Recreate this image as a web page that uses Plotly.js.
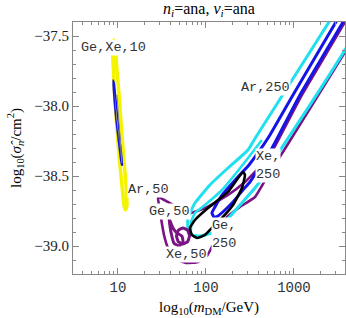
<!DOCTYPE html>
<html><head><meta charset="utf-8">
<script src="https://cdn.plot.ly/plotly-3.0.1.min.js"></script>
<style>html,body{margin:0;padding:0;background:#fff}#c{width:346px;height:318px}</style>
</head><body><div id="c"></div>
<script>
// x values are log10(m_DM/GeV), y values are log10(sigma_n/cm^2)
const xTickVals = [1, 2, 3];
const xTickText = ['10', '100', '1000'];

// Ge,Xe,10 (yellow)
const yel10X = [0.938,0.943,0.966,0.989,1.017,1.045,1.068,1.085,1.102,1.091,1.068,1.040,1.017,0.989,0.972,0.955,0.938];
const yel10Y = [-37.543,-37.671,-37.957,-38.171,-38.386,-38.564,-38.707,-38.743,-38.714,-38.564,-38.386,-38.171,-37.957,-37.743,-37.600,-37.529,-37.543];
// Ge,Xe,10 (blue)
const blue10X = [0.943,0.977,1.017,1.040,1.051,1.023,0.989,0.955,0.943];
const blue10Y = [-37.814,-38.100,-38.314,-38.421,-38.421,-38.243,-38.029,-37.829,-37.814];
const gray10X = [0.989,1.045];
const gray10Y = [-37.921,-38.407];

// Ar,250 (cyan)
const ar250X = [3.625,3.398,2.568,2.477,2.250,2.045,1.875,1.795,1.795,1.841,1.932,2.068,2.216,2.386,2.557,2.693,2.830,3.761,3.625];
const ar250Y = [-37.171,-37.400,-38.221,-38.314,-38.443,-38.564,-38.693,-38.800,-38.871,-38.921,-38.929,-38.907,-38.829,-38.707,-38.586,-38.471,-38.329,-37.386,-37.171];
const ar250InX = [2.636,2.443,2.182,1.989,1.875,1.830,1.830];
const ar250InY = [-38.243,-38.400,-38.600,-38.707,-38.764,-38.829,-38.886];

// Xe,250 (blue)
const xe250X = [3.682,3.477,2.989,2.727,2.614,2.489,2.352,2.182,2.102,2.068,2.091,2.136,2.216,2.307,2.420,2.500,2.625,2.739,2.830,3.068,3.557,3.716,3.682];
const xe250Y = [-37.171,-37.400,-37.921,-38.207,-38.314,-38.421,-38.514,-38.636,-38.721,-38.764,-38.793,-38.786,-38.743,-38.686,-38.600,-38.543,-38.421,-38.314,-38.207,-37.921,-37.400,-37.207,-37.171];

// Ge,250 (black)
const ge250X = [2.420,2.250,2.023,1.875,1.818,1.841,1.898,1.989,2.068,2.182,2.307,2.409,2.443,2.420];
const ge250Y = [-38.471,-38.614,-38.729,-38.814,-38.871,-38.921,-38.943,-38.921,-38.871,-38.800,-38.707,-38.586,-38.493,-38.471];

// Ar,50 (purple)
const ar50X = [3.773,3.580,3.091,2.852,2.761,2.659,2.557,2.443,2.250,1.989,1.818,1.625,1.455,1.466,1.489,1.523,1.568,1.636,1.773,1.909,2.011,2.068,2.159,2.239,2.386,2.557,2.727,2.875,3.841];
const ar50Y = [-37.171,-37.400,-37.921,-38.207,-38.314,-38.400,-38.471,-38.543,-38.636,-38.729,-38.764,-38.707,-38.650,-38.707,-38.800,-38.921,-39.014,-39.086,-39.121,-39.114,-39.071,-39.007,-38.900,-38.793,-38.721,-38.650,-38.471,-38.329,-37.350];
// Xe,50 (purple)
const xe50X = [1.580,1.602,1.636,1.693,1.739,1.727,1.670,1.625,1.591,1.580];
const xe50Y = [-38.807,-38.900,-38.979,-39.000,-38.971,-38.929,-38.907,-38.871,-38.821,-38.807];
// Ge,50 (purple)
const ge50X = [1.813,1.791,1.739,1.686,1.665,1.686,1.739,1.791,1.813];
const ge50Y = [-38.929,-38.969,-38.986,-38.969,-38.929,-38.888,-38.871,-38.888,-38.929];

// labels
const labText = ['Ge,Xe,10','Ar,250','Xe,<br>250','Ar,50','Ge,50','Ge,<br>250','Xe,50'];
const labX = [0.949,2.676,2.705,1.352,1.580,2.205,1.784];
const labY = [-37.582,-37.871,-38.425,-38.593,-38.755,-38.918,-39.064];
const titleText = '<i>n<sub>i</sub></i>=ana, <i>ν<sub>i</sub></i>=ana';

const CY='#1ee0ee', BL='#1414e6', PU='#7a1485', BK='#000000', YE='#f4f400';
function tr(x,y,color,width){
  return {x:x,y:y,mode:'lines',type:'scatter',line:{color:color,width:width,shape:'spline',smoothing:0.4},hoverinfo:'skip',showlegend:false};
}
const data = [
  tr(ar50X,ar50Y,PU,2.6),
  tr(ar250X,ar250Y,CY,3),
  tr(ar250InX,ar250InY,CY,2.6),
  tr(xe250X,xe250Y,BL,3),
  tr(xe50X,xe50Y,PU,3),
  tr(ge50X,ge50Y,PU,3),
  tr(ge250X,ge250Y,BK,2.6),
  tr(yel10X,yel10Y,YE,3.5),
  tr(blue10X,blue10Y,BL,1.5),
  tr(gray10X,gray10Y,'#888',1)
];
const minorX=[];
for(let d=0; d<4; d++){ for(let k=2;k<=9;k++){ const v=d+Math.log10(k); if(v>0.49 && v<3.58) minorX.push(v);} }
const annotations = labText.map((t,i)=>({x:labX[i],y:labY[i],xref:'x',yref:'y',text:t,showarrow:false,
  font:{family:'Liberation Mono, Courier New, monospace',size:13.5,color:'#333'},bgcolor:'#fff',borderpad:0,align:'left'}));
const frame='#888';
const layout = {
  width:346,height:318,
  margin:{l:73,r:1,t:22,b:44},
  paper_bgcolor:'#fff',plot_bgcolor:'#fff',
  title:{text:titleText,font:{family:'Liberation Serif, Times New Roman, serif',size:16,color:'#000'},
    x:0.604,xanchor:'center',xref:'container',y:0.974,yanchor:'middle',yref:'container'},
  xaxis:{range:[0.489,3.58],tickmode:'array',tickvals:xTickVals,ticktext:xTickText,
    ticks:'inside',ticklen:6,tickcolor:frame,showline:true,linecolor:frame,linewidth:1,mirror:'ticks',
    showgrid:false,zeroline:false,
    minor:{tickmode:'array',tickvals:minorX,ticks:'inside',ticklen:3,tickcolor:frame,showgrid:false},
    tickfont:{family:'Liberation Mono, Courier New, monospace',size:14,color:'#333'},
    title:{text:'log<sub>10</sub>(<i>m</i><sub>DM</sub>/GeV)',font:{family:'Liberation Serif, Times New Roman, serif',size:15,color:'#000'},standoff:6}},
  yaxis:{range:[-39.2,-37.4],tick0:-37.5,dtick:0.5,tickformat:'.1f',
    ticks:'inside',ticklen:6,tickcolor:frame,showline:true,linecolor:frame,linewidth:1,mirror:'ticks',
    showgrid:false,zeroline:false,
    minor:{dtick:0.1,ticks:'inside',ticklen:3,tickcolor:frame,showgrid:false},
    tickfont:{family:'Liberation Serif, Times New Roman, serif',size:15,color:'#222'},
    title:{text:'log<sub>10</sub>(<i>σ̂<sub>n</sub></i>/cm<sup>2</sup>)',font:{family:'Liberation Serif, Times New Roman, serif',size:15,color:'#000'},standoff:9}},
  annotations:annotations
};
Plotly.newPlot('c',data,layout,{displayModeBar:false,staticPlot:true});
</script></body></html>
